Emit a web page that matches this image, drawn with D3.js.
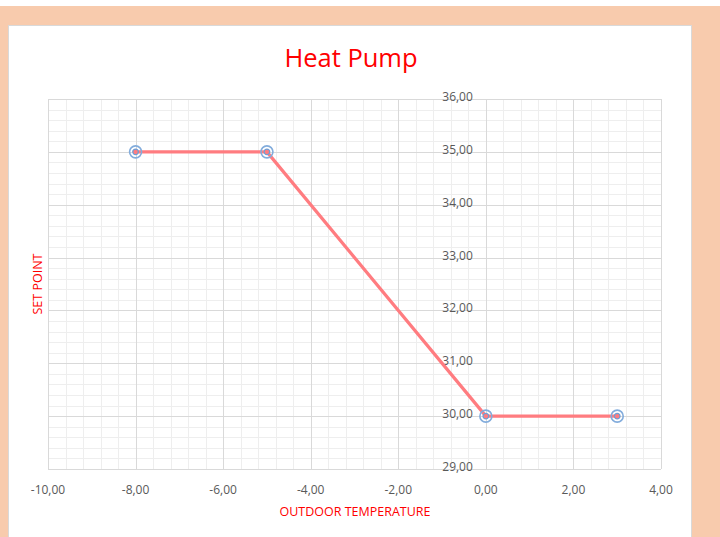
<!DOCTYPE html>
<html>
<head>
<meta charset="utf-8">
<script src="https://cdn.jsdelivr.net/npm/d3@7"></script>
<style>
  html, body { margin: 0; padding: 0; background: #ffffff; }
  svg { display: block; }
</style>
</head>
<body>
<svg id="chart" width="720" height="537"></svg>
<script>
// Heat pump curve: supply set point versus outdoor temperature
const outdoorTemp = [-8, -5, 0, 3];
const setPoint = [35, 35, 30, 30];
const xTicks = [-10, -8, -6, -4, -2, 0, 2, 4];
const yTicks = [29, 30, 31, 32, 33, 34, 35, 36];

// decimal comma, plain hyphen for negatives
const fmt = v => v.toFixed(2).replace(".", ",");

const svg = d3.select("#chart");

// page frame
svg.append("rect").attr("x", 0).attr("y", 6).attr("width", 720).attr("height", 531).attr("fill", "#f8cbad");
svg.append("rect").attr("x", 8.5).attr("y", 25.5).attr("width", 683).attr("height", 530)
  .attr("fill", "#ffffff").attr("stroke", "#d9d9d9").attr("stroke-width", 1);

const plot = { left: 48, right: 661, top: 99, bottom: 469 };
const x = d3.scaleLinear().domain([-10, 4]).range([plot.left, plot.right]);
const y = d3.scaleLinear().domain([29, 36]).range([plot.bottom, plot.top]);

// minor grid
const minorX = d3.range(-10, 4.0001, 0.4);
const minorY = d3.range(29, 36.0001, 0.2);
const grid = svg.append("g");
grid.selectAll("line.mx").data(minorX).join("line")
  .attr("x1", d => Math.round(x(d)) + 0.5).attr("x2", d => Math.round(x(d)) + 0.5)
  .attr("y1", plot.top).attr("y2", plot.bottom)
  .attr("stroke", "#eeeeee").attr("stroke-width", 1);
grid.selectAll("line.my").data(minorY).join("line")
  .attr("y1", d => Math.round(y(d)) + 0.5).attr("y2", d => Math.round(y(d)) + 0.5)
  .attr("x1", plot.left).attr("x2", plot.right)
  .attr("stroke", "#eeeeee").attr("stroke-width", 1);
// major grid
grid.selectAll("line.Mx").data(xTicks).join("line")
  .attr("x1", d => Math.round(x(d)) + 0.5).attr("x2", d => Math.round(x(d)) + 0.5)
  .attr("y1", plot.top).attr("y2", plot.bottom)
  .attr("stroke", "#d9d9d9").attr("stroke-width", 1);
grid.selectAll("line.My").data(yTicks).join("line")
  .attr("y1", d => Math.round(y(d)) + 0.5).attr("y2", d => Math.round(y(d)) + 0.5)
  .attr("x1", plot.left).attr("x2", plot.right)
  .attr("stroke", "#d9d9d9").attr("stroke-width", 1);

const labelFont = "'Open Sans', 'Liberation Sans', sans-serif";

// x tick labels
svg.append("g").selectAll("text").data(xTicks).join("text")
  .attr("x", d => x(d)).attr("y", 494)
  .attr("text-anchor", "middle")
  .attr("font-family", labelFont).attr("font-size", 12).attr("fill", "#595959")
  .text(fmt);

// y tick labels sit beside the vertical axis at x = 0
svg.append("g").selectAll("text").data(yTicks).join("text")
  .attr("x", x(0) - 13).attr("y", d => y(d) + 2)
  .attr("text-anchor", "end")
  .attr("font-family", labelFont).attr("font-size", 12).attr("fill", "#595959")
  .text(fmt);

// series line
const line = d3.line().x((d, i) => x(outdoorTemp[i])).y(d => y(d));
svg.append("path").datum(setPoint)
  .attr("d", line).attr("fill", "none")
  .attr("stroke", "#ff7c80").attr("stroke-width", 3.2).attr("stroke-linejoin", "round");

// markers
const markers = svg.append("g").selectAll("g").data(setPoint).join("g")
  .attr("transform", (d, i) => `translate(${x(outdoorTemp[i])},${y(d)})`);
markers.append("circle").attr("r", 6).attr("fill", "none")
  .attr("stroke", "#82acdc").attr("stroke-width", 1.6);
markers.append("circle").attr("r", 2.8).attr("fill", "#ff7c80")
  .attr("stroke", "#6f9fd6").attr("stroke-width", 1.3);

// title
svg.append("text").attr("x", 351).attr("y", 67)
  .attr("text-anchor", "middle")
  .attr("font-family", labelFont).attr("font-size", 25.5).attr("fill", "#ff0000")
  .text("Heat Pump");

// axis titles
svg.append("text").attr("x", 355).attr("y", 516)
  .attr("text-anchor", "middle")
  .attr("font-family", labelFont).attr("font-size", 12.5).attr("fill", "#ff0000")
  .text("OUTDOOR TEMPERATURE");
svg.append("text")
  .attr("transform", `translate(42,${(plot.top + plot.bottom) / 2}) rotate(-90)`)
  .attr("text-anchor", "middle")
  .attr("font-family", labelFont).attr("font-size", 12.5).attr("fill", "#ff0000")
  .text("SET POINT");
</script>
</body>
</html>
